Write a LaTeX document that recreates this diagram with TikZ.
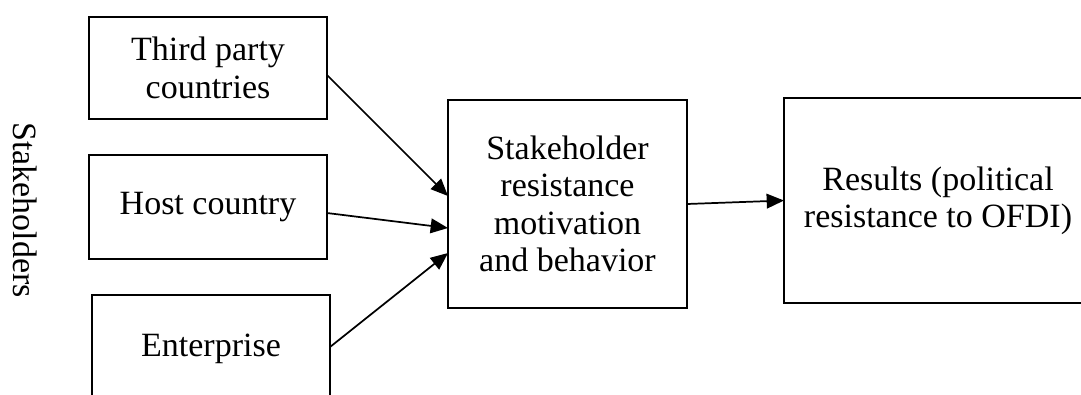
\documentclass[tikz,border=0pt]{standalone}
\usepackage{fontspec}
\setmainfont{Liberation Serif}
\usetikzlibrary{arrows.meta,calc}
\begin{document}
\begin{tikzpicture}[x=0.75pt,y=-0.75pt,
  box/.style={draw,line width=1.3pt,inner sep=0pt,outer sep=0pt,align=center,
    font=\fontsize{25.5}{28}\selectfont},
  conn/.style={line width=1.3pt,-{Triangle[length=13pt,width=11pt]}}]
\useasboundingbox (0,0) rectangle (1081,394);
\clip (0,0) rectangle (1081,394);
\node[box,minimum width=178.5pt,minimum height=76.5pt] (b1) at (208,68) {Third party\\countries};
\node[box,minimum width=178.5pt,minimum height=78pt] (b2) at (208,207) {Host country};
\node[box,minimum width=178.5pt,minimum height=81pt] (b3) at (211,349) {Enterprise};
\node[box,minimum width=179.25pt,minimum height=156pt] (mid) at (567.5,204) {Stakeholder\\resistance\\motivation\\and behavior};
\node[box,minimum width=231pt,minimum height=153.75pt] (res) at (938,200.5) {Results (political\\resistance to OFDI)};
\node[font=\fontsize{25.5}{28}\selectfont,rotate=-90] (st) at (25,210) {Stakeholders};
\draw[conn] ($(b1.east)+(0,7)$) -- ($(mid.west)+(0,-8)$);
\draw[conn] ($(b2.east)+(0,6)$) -- ($(mid.west)+(0,24)$);
\draw[conn] ($(b3.east)+(0,-2)$) -- ($(mid.west)+(0,49)$);
\draw[conn] (mid.east) -- (res.west);
\end{tikzpicture}
\end{document}
